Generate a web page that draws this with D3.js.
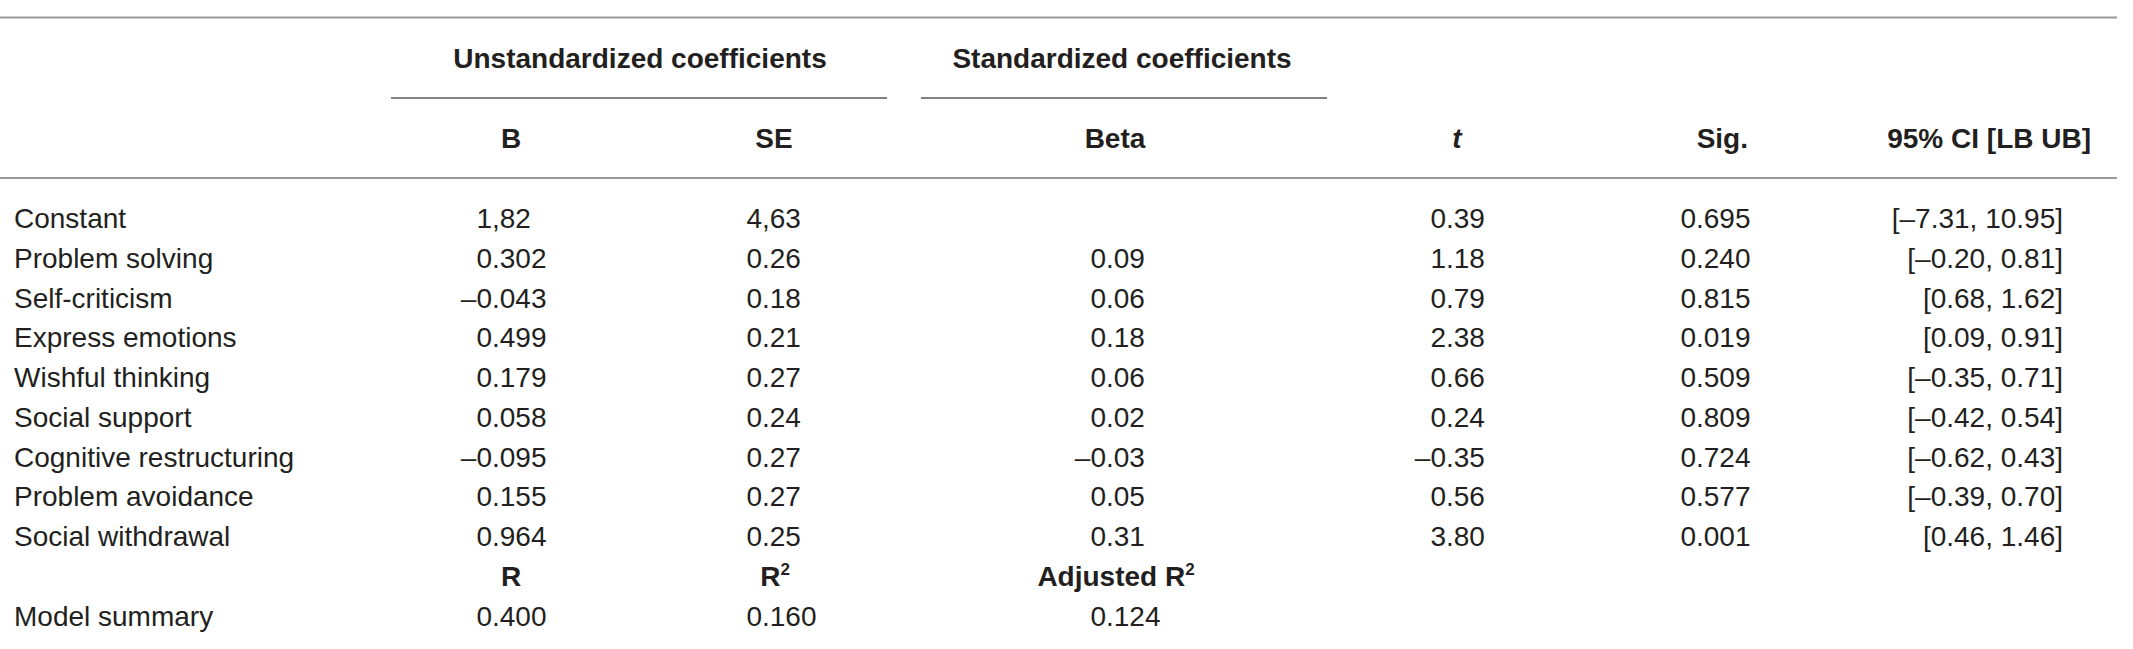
<!DOCTYPE html>
<html>
<head>
<meta charset="utf-8">
<script src="https://cdn.jsdelivr.net/npm/d3@7"></script>
<style>
  body { margin: 0; background: #fff; }
  text { font-family: "Liberation Sans", Arial, Helvetica, sans-serif; fill: #231f20; }
</style>
</head>
<body>
<svg width="2133" height="649"></svg>
<script>
// table contents
const predictors = ["Constant", "Problem solving", "Self-criticism", "Express emotions", "Wishful thinking",
  "Social support", "Cognitive restructuring", "Problem avoidance", "Social withdrawal"];
const bValues = ["1,82", "0.302", "–0.043", "0.499", "0.179", "0.058", "–0.095", "0.155", "0.964"];
const seValues = ["4,63", "0.26", "0.18", "0.21", "0.27", "0.24", "0.27", "0.27", "0.25"];
const betaValues = ["", "0.09", "0.06", "0.18", "0.06", "0.02", "–0.03", "0.05", "0.31"];
const tValues = ["0.39", "1.18", "0.79", "2.38", "0.66", "0.24", "–0.35", "0.56", "3.80"];
const sigValues = ["0.695", "0.240", "0.815", "0.019", "0.509", "0.809", "0.724", "0.577", "0.001"];
const ciLower = ["–7.31", "–0.20", "0.68", "0.09", "–0.35", "–0.42", "–0.62", "–0.39", "0.46"];
const ciUpper = ["10.95", "0.81", "1.62", "0.91", "0.71", "0.54", "0.43", "0.70", "1.46"];
const summaryHeads = ["R", "R2", "Adjusted R2"];
const summaryValues = ["0.400", "0.160", "0.124"];

const svg = d3.select("svg");
const fontSize = 28;

// rows: 9 predictors + summary header + model summary
const rowKeys = predictors.concat(["summaryHead", "Model summary"]);
const y = d3.scalePoint().domain(rowKeys).range([228, 625.5]);

// column anchors (decimal point for numeric columns)
const numCols = ["B", "SE", "Beta", "t", "Sig"];
const decX = d3.scaleOrdinal().domain(numCols).range([492, 762, 1106, 1446, 1696]);
const headX = d3.scaleOrdinal().domain(numCols).range([511, 774, 1115, 1457, 1748]);
const ciRight = 2063;

// rules
const rules = [
  { x1: 0, x2: 2117, y: 17.5, c: "#9a9a9a", w: 2 },
  { x1: 391, x2: 887, y: 98, c: "#5a5a5a", w: 1.6 },
  { x1: 921, x2: 1327, y: 98, c: "#5a5a5a", w: 1.6 },
  { x1: 0, x2: 2117, y: 178, c: "#9a9a9a", w: 2 }
];
svg.selectAll("line.rule").data(rules).enter().append("line")
  .attr("class", "rule")
  .attr("x1", d => d.x1).attr("x2", d => d.x2)
  .attr("y1", d => d.y).attr("y2", d => d.y)
  .attr("stroke", d => d.c).attr("stroke-width", d => d.w);

// group headers
svg.append("text").attr("x", 640).attr("y", 68).attr("text-anchor", "middle")
  .attr("font-size", fontSize).attr("font-weight", "bold").text("Unstandardized coefficients");
svg.append("text").attr("x", 1122).attr("y", 68).attr("text-anchor", "middle")
  .attr("font-size", fontSize).attr("font-weight", "bold").text("Standardized coefficients");

// column headers
const colHeads = [
  { key: "B", label: "B", anchor: "middle" },
  { key: "SE", label: "SE", anchor: "middle" },
  { key: "Beta", label: "Beta", anchor: "middle" },
  { key: "t", label: "t", anchor: "middle", italic: true },
  { key: "Sig", label: "Sig.", anchor: "end" }
];
svg.selectAll("text.colhead").data(colHeads).enter().append("text")
  .attr("class", "colhead")
  .attr("x", d => headX(d.key)).attr("y", 148)
  .attr("text-anchor", d => d.anchor)
  .attr("font-size", fontSize).attr("font-weight", "bold")
  .attr("font-style", d => d.italic ? "italic" : "normal")
  .text(d => d.label);
svg.append("text").attr("x", 2091).attr("y", 148).attr("text-anchor", "end")
  .attr("font-size", fontSize).attr("font-weight", "bold").text("95% CI [LB UB]");

// row labels
svg.selectAll("text.rowlabel").data(predictors.concat(["Model summary"])).enter().append("text")
  .attr("class", "rowlabel")
  .attr("x", 14).attr("y", d => y(d))
  .attr("font-size", fontSize)
  .text(d => d);

// decimal-aligned numeric cells
function decimalCells(values, col, rowOf) {
  svg.selectAll(null).data(values.map((v, i) => ({ v, row: rowOf(i) })).filter(d => d.v !== ""))
    .enter().append("text")
    .attr("y", d => y(d.row))
    .attr("font-size", fontSize)
    .text(d => d.v)
    .each(function(d) {
      const idx = d.v.search(/[.,]/);
      const pre = idx > 0 ? this.getSubStringLength(0, idx) : 0;
      d3.select(this).attr("x", decX(col) - pre);
    });
}
decimalCells(bValues, "B", i => predictors[i]);
decimalCells(seValues, "SE", i => predictors[i]);
decimalCells(betaValues, "Beta", i => predictors[i]);
decimalCells(tValues, "t", i => predictors[i]);
decimalCells(sigValues, "Sig", i => predictors[i]);

// confidence intervals
svg.selectAll("text.ci").data(predictors).enter().append("text")
  .attr("class", "ci")
  .attr("x", ciRight).attr("y", d => y(d))
  .attr("text-anchor", "end")
  .attr("font-size", fontSize)
  .text((d, i) => `[${ciLower[i]}, ${ciUpper[i]}]`);

// model summary header (R, R², Adjusted R²) in B, SE, Beta columns
const sumCols = ["B", "SE", "Beta"];
const sumHead = svg.selectAll("text.sumhead").data(summaryHeads).enter().append("text")
  .attr("class", "sumhead")
  .attr("x", (d, i) => headX(sumCols[i]) + (d.endsWith("2") ? 1 : 0))
  .attr("y", y("summaryHead"))
  .attr("text-anchor", "middle")
  .attr("font-size", fontSize).attr("font-weight", "bold");
sumHead.append("tspan").text(d => d.endsWith("2") ? d.slice(0, -1) : d);
sumHead.filter(d => d.endsWith("2")).append("tspan")
  .attr("font-size", 17).attr("dy", -11).text("2");

// model summary values
summaryValues.forEach((v, i) => decimalCells([v], sumCols[i], () => "Model summary"));
</script>
</body>
</html>
